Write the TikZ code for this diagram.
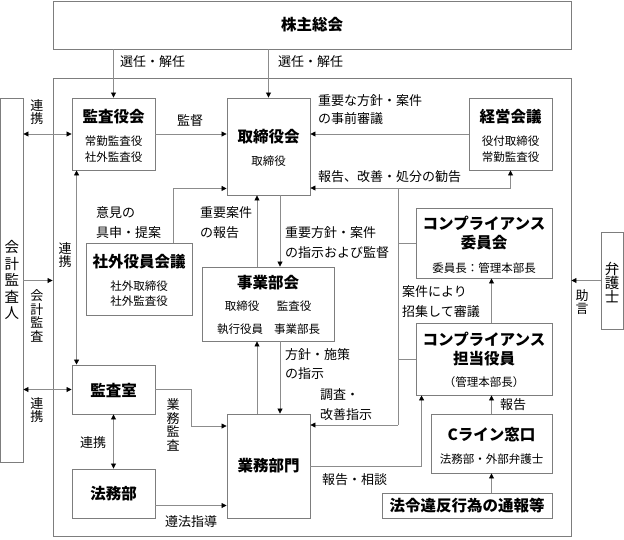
\documentclass[tikz,border=0pt]{standalone}
\usepackage{fontspec}
\setmainfont{Noto Sans CJK JP}
\usetikzlibrary{arrows.meta,fit}
\definecolor{boxgray}{RGB}{125,125,125}
\definecolor{linegray}{RGB}{140,140,140}
\begin{document}
\begin{tikzpicture}[x=1pt,y=-1pt,
  box/.style={draw=boxgray, line width=0.9pt, inner sep=0pt},
  ln/.style={draw=linegray, line width=0.8pt},
  arr/.style={ln, -{Triangle[length=5pt,width=5pt,color=black]}},
  darr/.style={ln, {Triangle[length=5pt,width=5pt,color=black]}-{Triangle[length=5pt,width=5pt,color=black]}},
  ttl/.style={font=\fontsize{15.5}{19}\selectfont\bfseries, inner sep=0pt, align=center},
  sm/.style={font=\fontsize{11.5}{13}\selectfont, inner sep=0pt},
  lbl/.style={font=\fontsize{13}{14}\selectfont, inner sep=0pt, anchor=west},
  vlbl/.style={font=\fontsize{13}{13.5}\selectfont, inner sep=0pt, align=center},
]
\useasboundingbox (0,0) rectangle (624,539);

% boxes
\node[box, fit={(53,1) (571,49)}] (top) {};
\node[box, fit={(53,78) (571,536)}] (frame) {};
\node[box, fit={(0.5,98) (23,462)}] (kaikei) {};
\node[box, fit={(601,232) (623.5,329)}] (bengo) {};
\node[box, fit={(72,98) (155,170)}] (kansayaku) {};
\node[box, fit={(227,98) (310,195)}] (torishimari) {};
\node[box, fit={(469,98) (552,170)}] (keiei) {};
\node[box, fit={(86,243) (192,315)}] (shagai) {};
\node[box, fit={(202,267) (334,341)}] (jigyo) {};
\node[box, fit={(416,208) (552,278)}] (iinkai) {};
\node[box, fit={(416,323) (552,395)}] (tanto) {};
\node[box, fit={(431,414) (552,473)}] (cline) {};
\node[box, fit={(382,493) (552,518)}] (hourei) {};
\node[box, fit={(72,365) (155,414)}] (kansashitsu) {};
\node[box, fit={(72,469) (155,518)}] (houmu) {};
\node[box, fit={(227,414) (310,518)}] (gyomu) {};

% box texts
\node[ttl] (t-top) at (312,25) {株主総会};
\node[ttl] (t-ky) at (113.5,117) {監査役会};
\node[sm] (t-ky1) at (113.5,141) {常勤監査役};
\node[sm] (t-ky2) at (113.5,157) {社外監査役};
\node[ttl] (t-tr) at (268.5,137) {取締役会};
\node[sm] (t-tr1) at (268.5,161) {取締役};
\node[ttl] (t-ke) at (510.5,117) {経営会議};
\node[sm] (t-ke1) at (510.5,141) {役付取締役};
\node[sm] (t-ke2) at (510.5,157) {常勤監査役};
\node[ttl] (t-sg) at (139,262) {社外役員会議};
\node[sm] (t-sg1) at (139,286) {社外取締役};
\node[sm] (t-sg2) at (139,301) {社外監査役};
\node[ttl] (t-jg) at (268,283) {事業部会};
\node[sm] (t-jg1) at (242,306) {取締役};
\node[sm] (t-jg2) at (294,306) {監査役};
\node[sm] (t-jg3) at (240,329) {執行役員};
\node[sm] (t-jg4) at (297,329) {事業部長};
\node[ttl] (t-ii) at (484,233) {コンプライアンス\\委員会};
\node[sm] (t-ii1) at (484,268) {委員長：管理本部長};
\node[ttl] (t-ta) at (484,349) {コンプライアンス\\担当役員};
\node[sm] (t-ta1) at (484,382) {（管理本部長）};
\node[ttl] (t-cl) at (491.5,435) {Cライン窓口};
\node[sm] (t-cl1) at (491.5,459) {法務部・外部弁護士};
\node[ttl] (t-hr) at (467,506) {法令違反行為の通報等};
\node[ttl] (t-gy) at (268.5,466) {業務部門};
\node[ttl] (t-ks) at (113.5,390) {監査室};
\node[ttl] (t-hm) at (113.5,494) {法務部};
\node[font=\fontsize{14.5}{16.5}\selectfont, inner sep=0pt, align=center] (t-kk) at (12,280) {会\\計\\監\\査\\人};
\node[font=\fontsize{14.5}{14}\selectfont, inner sep=0pt, align=center] (t-bg) at (612,283) {弁\\護\\士};

% labels
\node[lbl] (l1) at (120,62) {選任・解任};
\node[lbl] (l2) at (278,62) {選任・解任};
\node[lbl, anchor=center] (l3) at (190,121) {監督};
\node[lbl] (l4) at (318,101) {重要な方針・案件};
\node[lbl] (l5) at (318,119) {の事前審議};
\node[lbl] (l6) at (318,177) {報告、改善・処分の勧告};
\node[lbl] (l7) at (96,213) {意見の};
\node[lbl] (l8) at (96,233) {具申・提案};
\node[lbl] (l9) at (200,213) {重要案件};
\node[lbl] (l10) at (200,233) {の報告};
\node[lbl] (l11) at (285,233) {重要方針・案件};
\node[lbl] (l12) at (285,253) {の指示および監督};
\node[lbl] (l13) at (402,292) {案件により};
\node[lbl] (l14) at (402,312) {招集して審議};
\node[lbl] (l15) at (285,355) {方針・施策};
\node[lbl] (l16) at (285,374) {の指示};
\node[lbl] (l17) at (320,395) {調査・};
\node[lbl] (l18) at (320,415) {改善指示};
\node[lbl] (l19) at (500,405) {報告};
\node[lbl] (l20) at (322,480) {報告・相談};
\node[lbl, anchor=center] (l21) at (191,522) {遵法指導};
\node[lbl, anchor=center] (l22) at (93,443) {連携};
\node[vlbl] (v1) at (37,112) {連\\携};
\node[vlbl] (v2) at (65,255) {連\\携};
\node[vlbl] (v3) at (37,316) {会\\計\\監\\査};
\node[vlbl] (v4) at (37,410) {連\\携};
\node[vlbl] (v5) at (173,425) {業\\務\\監\\査};
\node[vlbl] (v6) at (582,302) {助\\言};

% connectors
\draw[arr] (kansayaku.north |- top.south) -- (kansayaku.north);
\draw[arr] (torishimari.north |- top.south) -- (torishimari.north);
\draw[darr] (kaikei.east |- kansayaku.west) -- (kansayaku.west);
\draw[arr] (kansayaku.east) -- (kansayaku.east -| torishimari.west);
\draw[arr] (keiei.west) -- (keiei.west -| torishimari.east);
\draw[darr] ([xshift=5pt]kansayaku.south west) -- ([xshift=5pt]kansayaku.south west |- kansashitsu.north);
\draw[arr] ([xshift=-19pt]shagai.north east) |- ([yshift=7pt]torishimari.south west);
\draw[arr] ([xshift=-11.5pt]torishimari.south |- jigyo.north) -- ([xshift=-11.5pt]torishimari.south);
\draw[arr] ([xshift=11.5pt]torishimari.south) -- ([xshift=11.5pt]torishimari.south |- jigyo.north);
\draw[arr] ([xshift=-11.5pt]gyomu.north) -- ([xshift=-11.5pt]gyomu.north |- jigyo.south);
\draw[arr] ([xshift=11.5pt]gyomu.north |- jigyo.south) -- ([xshift=11.5pt]gyomu.north);

\coordinate (b1) at (398,188);
\coordinate (b2) at (398,425);
\draw[arr] (b1) -- (b1 -| torishimari.east);
\draw[arr] (b1) -| (keiei.south);
\draw[ln] (b1) -- (b2);
\draw[arr] (b2) -- (b2 -| gyomu.east);
\draw[ln] (b1 |- iinkai.west) -- (iinkai.west);
\draw[ln] (b1 |- tanto.west) -- (tanto.west);

\draw[arr] (gyomu.east) -| ([xshift=6pt]tanto.south west);
\draw[arr] (cline.north) -- (cline.north |- tanto.south);
\draw[arr] (cline.north |- tanto.north) -- (cline.north |- iinkai.south);
\draw[arr] (cline.south |- hourei.north) -- (cline.south);

\draw[arr] (kaikei.east |- bengo.west) -- (frame.west |- bengo.west);
\draw[arr] (bengo.west) -- (bengo.west -| frame.east);
\draw[darr] (kaikei.east |- kansashitsu.west) -- (kansashitsu.west);
\coordinate (kg) at (191,426);
\draw[arr] (kansashitsu.east) -| (kg) -- (kg -| gyomu.west);
\draw[darr] (kansashitsu.south) -- (houmu.north);
\draw[arr] ([yshift=-12pt]houmu.east) -- ([yshift=-12pt]houmu.east -| gyomu.west);
\end{tikzpicture}
\end{document}
